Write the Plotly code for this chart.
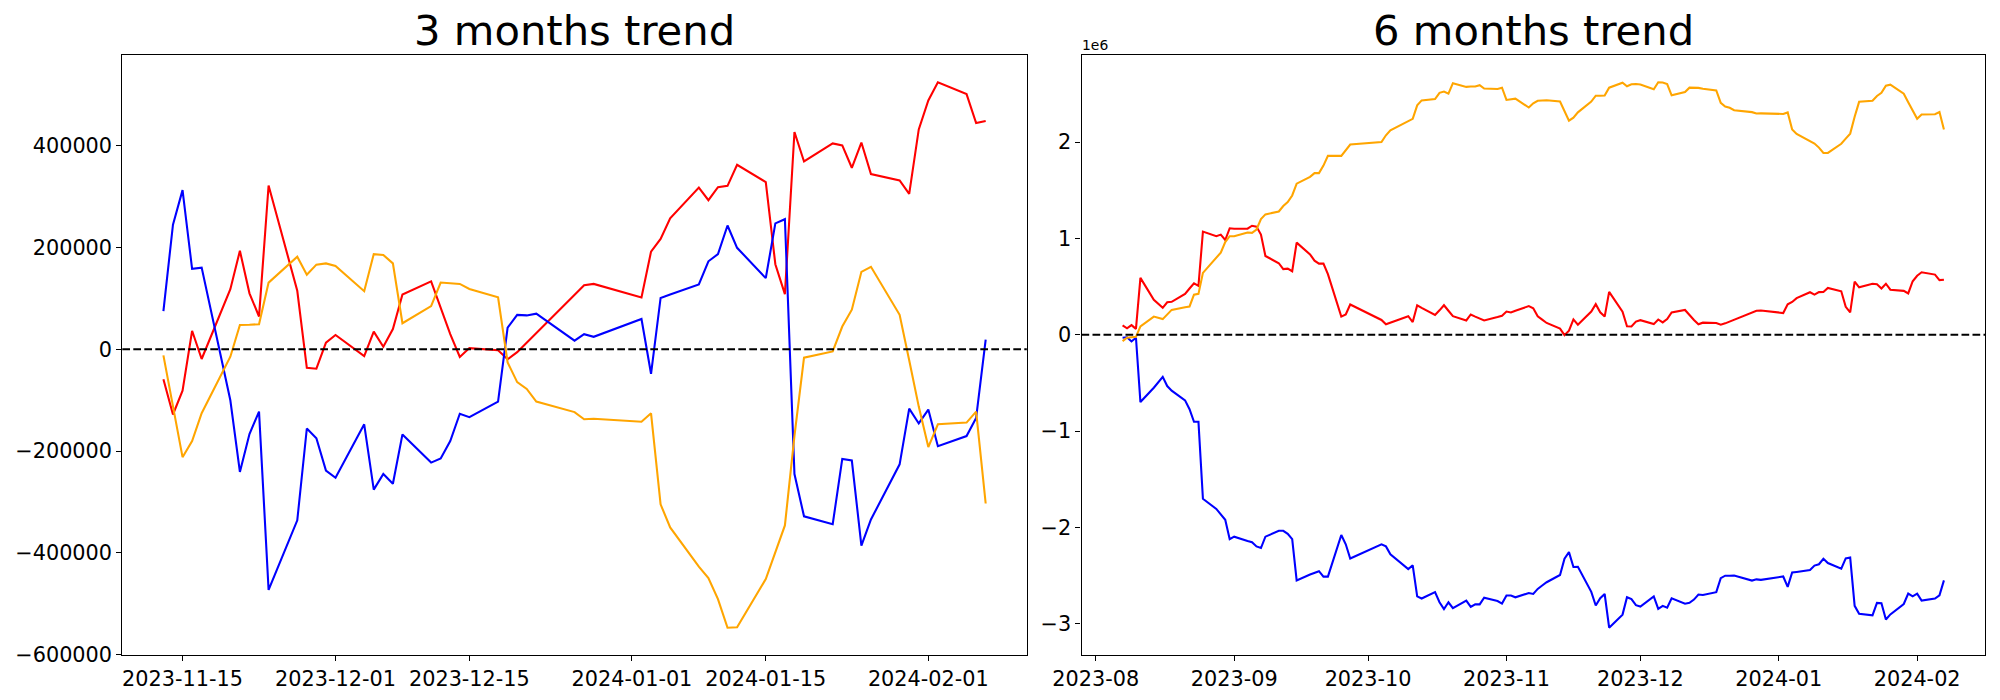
import pandas as pd
import plotly.graph_objects as go

# ---------------- 3 months (raw units) ----------------
dates_3m = [
    "2023-11-13", "2023-11-14", "2023-11-15", "2023-11-16", "2023-11-17",
    "2023-11-20", "2023-11-21", "2023-11-22", "2023-11-23", "2023-11-24",
    "2023-11-27", "2023-11-28", "2023-11-29", "2023-11-30", "2023-12-01",
    "2023-12-04", "2023-12-05", "2023-12-06", "2023-12-07", "2023-12-08",
    "2023-12-11", "2023-12-12", "2023-12-13", "2023-12-14", "2023-12-15",
    "2023-12-18", "2023-12-19", "2023-12-20", "2023-12-21", "2023-12-22",
    "2023-12-26", "2023-12-27", "2023-12-28",
    "2024-01-02", "2024-01-03", "2024-01-04", "2024-01-05",
    "2024-01-08", "2024-01-09", "2024-01-10", "2024-01-11", "2024-01-12",
    "2024-01-15", "2024-01-16", "2024-01-17", "2024-01-18", "2024-01-19",
    "2024-01-22", "2024-01-23", "2024-01-24", "2024-01-25", "2024-01-26",
    "2024-01-29", "2024-01-30", "2024-01-31", "2024-02-01", "2024-02-02",
    "2024-02-05", "2024-02-06", "2024-02-07",
]
red_3m = [
    -58700, -128000, -81300, 36400, -19000,
    118000, 193500, 110000, 64500, 321800,
    115000, -36400, -38100, 13200, 28100,
    -13200, 34700, 5000, 39700, 107500,
    133500, 80000, 30000, -15000, 2400,
    -1700, -19500, -5500, 13500, 32000,
    107000, 126000, 128500,
    101800, 191900, 216700, 257300,
    317700, 292900, 318500, 321000, 362400,
    328400, 167100, 108400, 426900, 369000,
    404500, 400400, 356600, 406200, 344200,
    331700, 305300, 431800, 488900, 524500,
    501300, 444300, 448400,
]
blue_3m = [
    75000, 244900, 312700, 158000, 160500,
    -100100, -240700, -166300, -122400, -472400,
    -335900, -155500, -174600, -238300, -252300,
    -147300, -275500, -244900, -263900, -167100,
    -222500, -214300, -180300, -126600, -133200,
    -102600, 42500, 67700, 66600, 70000,
    17000, 29800, 24600,
    59600, -48000, 100900, 107500,
    127400, 172900, 187000, 243200, 199400,
    139800, 247400, 255600, -244900, -328000,
    -343500, -215300, -218400, -385500, -334200,
    -225900, -116600, -145600, -118300, -190300,
    -170400, -134800, 19000,
]
orange_3m = [
    -12000, -111000, -211800, -180300, -125500,
    -14500, 47700, 48200, 49300, 131000,
    182000, 146400, 166300, 168800, 163800,
    114200, 187000, 185300, 168800, 51300,
    85000, 131200, 129500, 128500, 118500,
    102100, -25600, -64500, -77800, -102600,
    -123300, -137300, -136500,
    -142300, -125700, -304400, -349900,
    -426900, -449200, -490600, -546800, -546000,
    -451200, -397600, -345900, -170000, -16500,
    -4100, 44700, 77800, 152200, 162100,
    67800, -21500, -112500, -191900, -147300,
    -143900, -122400, -302800,
]

# ---------------- 6 months (in units of 1e6) ----------------
dates_6m_a = [
    "2023-08-07", "2023-08-08", "2023-08-09", "2023-08-10", "2023-08-11",
    "2023-08-14", "2023-08-16", "2023-08-17", "2023-08-18",
    "2023-08-21", "2023-08-22", "2023-08-23", "2023-08-24", "2023-08-25",
    "2023-08-28", "2023-08-29", "2023-08-30", "2023-08-31", "2023-09-01",
    "2023-09-04", "2023-09-05", "2023-09-06", "2023-09-07", "2023-09-08",
    "2023-09-11", "2023-09-12", "2023-09-13", "2023-09-14", "2023-09-15",
    "2023-09-18", "2023-09-19", "2023-09-20", "2023-09-21", "2023-09-22",
    "2023-09-25", "2023-09-26", "2023-09-27",
    "2023-10-04", "2023-10-05", "2023-10-06",
    "2023-10-10", "2023-10-11", "2023-10-12", "2023-10-13",
    "2023-10-16", "2023-10-17", "2023-10-18", "2023-10-19", "2023-10-20",
    "2023-10-23", "2023-10-24", "2023-10-25", "2023-10-26", "2023-10-27",
    "2023-10-30", "2023-10-31", "2023-11-01", "2023-11-02", "2023-11-03",
    "2023-11-06", "2023-11-07", "2023-11-08", "2023-11-09", "2023-11-10",
]
dates_6m = dates_6m_a + dates_3m

red_6m_a = [
    0.096, 0.066, 0.100, 0.061, 0.590,
    0.362, 0.279, 0.336, 0.341,
    0.424, 0.480, 0.533, 0.507, 1.070,
    1.022, 1.039, 0.983, 1.105, 1.100,
    1.100, 1.131, 1.122, 1.039, 0.817,
    0.742, 0.681, 0.686, 0.659, 0.956,
    0.834, 0.769, 0.738, 0.738, 0.629,
    0.188, 0.210, 0.314,
    0.153, 0.109, 0.127,
    0.192, 0.131, 0.306, 0.279,
    0.205, 0.253, 0.306, 0.249, 0.192,
    0.148, 0.210, 0.188, 0.170, 0.148,
    0.183, 0.197, 0.240, 0.231, 0.249,
    0.297, 0.275, 0.192, 0.157, 0.122,
]
red_6m_b = [
    0.064, -0.005, 0.042, 0.159, 0.104,
    0.241, 0.317, 0.233, 0.188, 0.445,
    0.238, 0.087, 0.085, 0.136, 0.151,
    0.110, 0.158, 0.128, 0.163, 0.231,
    0.257, 0.203, 0.153, 0.108, 0.125,
    0.121, 0.104, 0.118, 0.137, 0.155,
    0.230, 0.249, 0.252,
    0.225, 0.315, 0.340, 0.380,
    0.441, 0.416, 0.442, 0.444, 0.485,
    0.451, 0.290, 0.231, 0.550, 0.492,
    0.528, 0.523, 0.480, 0.529, 0.467,
    0.455, 0.428, 0.555, 0.612, 0.648,
    0.624, 0.567, 0.571,
]
blue_6m_a = [
    -0.031, -0.026, -0.070, -0.031, -0.699,
    -0.550, -0.437, -0.533, -0.581,
    -0.681, -0.773, -0.904, -0.904, -1.703,
    -1.808, -1.865, -1.921, -2.122, -2.096,
    -2.140, -2.153, -2.197, -2.214, -2.096,
    -2.035, -2.035, -2.066, -2.122, -2.550,
    -2.489, -2.472, -2.454, -2.511, -2.511,
    -2.079, -2.175, -2.323,
    -2.175, -2.197, -2.279,
    -2.432, -2.393, -2.716, -2.738,
    -2.672, -2.777, -2.847, -2.777, -2.838,
    -2.760, -2.825, -2.799, -2.799, -2.729,
    -2.764, -2.790, -2.707, -2.707, -2.725,
    -2.681, -2.690, -2.638, -2.603, -2.569,
]
blue_6m_b = [
    -2.494, -2.324, -2.256, -2.411, -2.409,
    -2.669, -2.810, -2.735, -2.691, -3.041,
    -2.905, -2.725, -2.744, -2.807, -2.821,
    -2.716, -2.845, -2.814, -2.833, -2.736,
    -2.792, -2.783, -2.749, -2.696, -2.702,
    -2.672, -2.527, -2.501, -2.502, -2.499,
    -2.552, -2.539, -2.544,
    -2.509, -2.617, -2.468, -2.462,
    -2.442, -2.396, -2.382, -2.326, -2.370,
    -2.429, -2.322, -2.313, -2.814, -2.897,
    -2.913, -2.784, -2.787, -2.955, -2.903,
    -2.795, -2.686, -2.715, -2.687, -2.759,
    -2.739, -2.704, -2.550,
]
orange_6m_a = [
    -0.066, -0.031, -0.026, -0.022, 0.087,
    0.188, 0.162, 0.215, 0.258,
    0.284, 0.293, 0.415, 0.424, 0.642,
    0.808, 0.852, 0.961, 1.022, 1.022,
    1.061, 1.057, 1.092, 1.201, 1.249,
    1.279, 1.336, 1.376, 1.445, 1.568,
    1.638, 1.677, 1.677, 1.755, 1.856,
    1.856, 1.921, 1.974,
    2.000, 2.070, 2.122,
    2.218, 2.240, 2.380, 2.432,
    2.445, 2.511, 2.524, 2.502, 2.611,
    2.572, 2.576, 2.576, 2.590, 2.555,
    2.550, 2.563, 2.437, 2.445, 2.450,
    2.358, 2.402, 2.428, 2.432, 2.433,
]
orange_6m_b = [
    2.421, 2.322, 2.221, 2.253, 2.308,
    2.419, 2.481, 2.481, 2.482, 2.564,
    2.615, 2.579, 2.599, 2.602, 2.597,
    2.547, 2.620, 2.618, 2.602, 2.484,
    2.518, 2.564, 2.563, 2.562, 2.552,
    2.535, 2.407, 2.369, 2.355, 2.330,
    2.310, 2.296, 2.297,
    2.291, 2.307, 2.129, 2.083,
    2.006, 1.984, 1.942, 1.886, 1.887,
    1.982, 2.035, 2.087, 2.263, 2.417,
    2.429, 2.478, 2.511, 2.585, 2.595,
    2.501, 2.412, 2.321, 2.241, 2.286,
    2.289, 2.311, 2.130,
]
red_6m = red_6m_a + red_6m_b
blue_6m = blue_6m_a + blue_6m_b
orange_6m = orange_6m_a + orange_6m_b

# ---------------- ticks ----------------
xticks_3m = ["2023-11-15", "2023-12-01", "2023-12-15", "2024-01-01", "2024-01-15", "2024-02-01"]
xticks_6m = ["2023-08-01", "2023-09-01", "2023-10-01", "2023-11-01", "2023-12-01", "2024-01-01", "2024-02-01"]
xticklabels_6m = ["2023-08", "2023-09", "2023-10", "2023-11", "2023-12", "2024-01", "2024-02"]
yticks_3m = [-600000, -400000, -200000, 0, 200000, 400000]
yticks_6m = [-3, -2, -1, 0, 1, 2]

titles = ["3 months trend", "6 months trend"]
colors = {"red": "#ff0000", "blue": "#0000ff", "orange": "#ffa500"}

W, H = 2000, 700
FONT = "DejaVu Sans"
LW = 2.08


def fmt(v):
    s = f"{v:d}"
    return s.replace("-", "\u2212")


def xrange_of(dates):
    t0 = pd.Timestamp(dates[0])
    t1 = pd.Timestamp(dates[-1])
    pad = (t1 - t0) * 0.05
    return [(t0 - pad).strftime("%Y-%m-%d %H:%M:%S"), (t1 + pad).strftime("%Y-%m-%d %H:%M:%S")]


def yrange_of(*series):
    lo = min(min(s) for s in series)
    hi = max(max(s) for s in series)
    pad = (hi - lo) * 0.05
    return [lo - pad, hi + pad]


def px_x(p):
    return p / W


def px_y(p):
    return 1 - p / H


fig = go.Figure()
for name, ys in (("red", red_3m), ("blue", blue_3m), ("orange", orange_3m)):
    fig.add_trace(go.Scatter(x=dates_3m, y=ys, mode="lines", showlegend=False,
                             line=dict(color=colors[name], width=LW), xaxis="x", yaxis="y"))
for name, ys in (("red", red_6m), ("blue", blue_6m), ("orange", orange_6m)):
    fig.add_trace(go.Scatter(x=dates_6m, y=ys, mode="lines", showlegend=False,
                             line=dict(color=colors[name], width=LW), xaxis="x2", yaxis="y2"))

# axes geometry (pixels)
L1, R1 = 122.3, 1026.8
L2, R2 = 1081.5, 1985.0
TOP, BOT = 55.0, 655.0
dom1 = [px_x(L1), px_x(R1)]
dom2 = [px_x(L2), px_x(R2)]
ydom = [px_y(BOT), px_y(TOP)]

axis_common = dict(showline=True, linecolor="black", linewidth=1.1, mirror=True,
                   ticks="outside", ticklen=5, tickwidth=1.1, tickcolor="black",
                   showgrid=False, zeroline=False, automargin=False,
                   tickfont=dict(family=FONT, size=20.8, color="black"))

fig.update_layout(
    template="none",
    width=W, height=H,
    margin=dict(l=0, r=0, t=0, b=0, pad=0, autoexpand=False),
    paper_bgcolor="white", plot_bgcolor="white",
    xaxis=dict(domain=dom1, anchor="y", type="date", range=xrange_of(dates_3m),
               tickvals=xticks_3m, ticktext=xticks_3m, **axis_common),
    yaxis=dict(domain=ydom, anchor="x", range=yrange_of(red_3m, blue_3m, orange_3m),
               tickvals=yticks_3m, ticktext=[fmt(v) for v in yticks_3m], **axis_common),
    xaxis2=dict(domain=dom2, anchor="y2", type="date", range=xrange_of(dates_6m),
                tickvals=xticks_6m, ticktext=xticklabels_6m, **axis_common),
    yaxis2=dict(domain=ydom, anchor="x2", range=yrange_of(red_6m, blue_6m, orange_6m),
                tickvals=yticks_6m, ticktext=[fmt(v) for v in yticks_6m], **axis_common),
)

# dashed zero lines
for xr, yr in (("x domain", "y"), ("x2 domain", "y2")):
    fig.add_shape(type="line", xref=xr, yref=yr, x0=0, x1=1, y0=0, y1=0,
                  line=dict(color="black", width=LW, dash="7.7px,3.3px"), layer="above")

# titles
for title, (a, b) in zip(titles, ((L1, R1), (L2, R2))):
    fig.add_annotation(text=title, xref="paper", yref="paper",
                       x=px_x((a + b) / 2), y=px_y(56.5),
                       xanchor="center", yanchor="bottom", showarrow=False,
                       font=dict(family=FONT, size=41.7, color="black"))

# offset text of the 6-month y axis
fig.add_annotation(text="1e6", xref="paper", yref="paper", x=px_x(1080.0), y=px_y(55.0),
                   xanchor="left", yanchor="bottom", showarrow=False,
                   font=dict(family=FONT, size=13.9, color="black"))

fig.write_html("out.html", config={"displayModeBar": False},
               post_script="document.body.style.margin='0px';")
